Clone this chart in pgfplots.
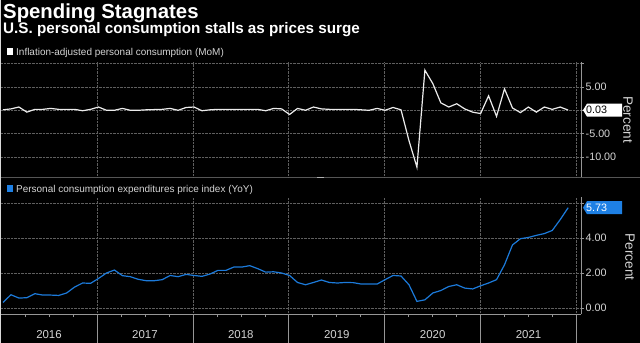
\documentclass[border=0pt]{standalone}
\usepackage{pgfplots}
\pgfplotsset{compat=1.18}
\usepackage{pgfplotstable}
\usepackage{fontspec}
\setmainfont{Liberation Sans}
\definecolor{bbblue}{RGB}{30,128,228}
\definecolor{lineblue}{RGB}{28,122,218}
\definecolor{txt}{RGB}{212,212,212}
\definecolor{gridc}{RGB}{95,95,95}
\definecolor{axc}{RGB}{150,150,150}
\definecolor{sepc}{RGB}{85,85,85}

% Inflation-adjusted personal consumption, MoM %, Dec 2015 (i=0) .. Nov 2021 (i=71)
\pgfplotstableread{
i v
0 0.1
1 0.3
2 0.7
3 -0.4
4 0.2
5 0.2
6 0.4
7 0.2
8 0.2
9 0.2
10 -0.1
11 0.2
12 0.7
13 0.0
14 0.0
15 0.4
16 0.0
17 0.0
18 0.1
19 0.15
20 0.2
21 0.4
22 0.0
23 0.6
24 0.7
25 -0.1
26 0.1
27 0.2
28 0.2
29 0.2
30 0.2
31 0.2
32 0.2
33 -0.1
34 0.4
35 0.3
36 -0.9
37 0.4
38 0.0
39 0.7
40 0.3
41 0.2
42 0.2
43 0.2
44 0.2
45 0.1
46 0.0
47 0.4
48 0.0
49 0.6
50 0.1
51 -6.5
52 -12.2
53 8.6
54 5.7
55 1.6
56 0.7
57 1.4
58 0.3
59 -0.4
60 -0.7
61 3.1
62 -1.3
63 4.6
64 0.5
65 -0.5
66 0.7
67 -0.4
68 0.7
69 0.2
70 0.7
71 0.03
}\realpce

% PCE price index, YoY %
\pgfplotstableread{
i v
0 0.32
1 0.76
2 0.57
3 0.59
4 0.82
5 0.74
6 0.74
7 0.72
8 0.86
9 1.20
10 1.43
11 1.41
12 1.69
13 2.00
14 2.17
15 1.85
16 1.79
17 1.64
18 1.56
19 1.56
20 1.62
21 1.86
22 1.79
23 1.92
24 1.86
25 1.81
26 1.94
27 2.15
28 2.15
29 2.34
30 2.34
31 2.42
32 2.25
33 2.05
34 2.07
35 2.00
36 1.86
37 1.46
38 1.33
39 1.46
40 1.60
41 1.46
42 1.43
43 1.46
44 1.45
45 1.37
46 1.37
47 1.37
48 1.62
49 1.86
50 1.83
51 1.33
52 0.38
53 0.47
54 0.86
55 1.00
56 1.23
57 1.33
58 1.14
59 1.09
60 1.27
61 1.43
62 1.62
63 2.47
64 3.60
65 3.96
66 4.03
67 4.15
68 4.25
69 4.43
70 5.05
71 5.73
}\pceyoy

\pgfplotsset{
  bbstyle/.style={
    scale only axis, width=580bp, anchor=south west,
    xmin=-0.25, xmax=72.61,
    axis y line*=right, axis x line*=bottom,
    y axis line style={draw=axc, -},
    xtick={11.8,23.85,35.9,47.95,60.0,72.0}, xticklabels={},
    grid=major,
    grid style={gridc, densely dotted, line width=0.6bp},
    tick align=outside, major tick length=3bp, minor tick length=3bp,
    every tick/.style={axc, line width=0.6bp},
    yticklabel style={font=\fontsize{10.8}{11}\selectfont, text=txt, inner sep=1.5bp},
    /pgf/number format/assume math mode=true,
    clip=false,
  }
}

\begin{document}
\begin{tikzpicture}
\fill[black] (0,0) rectangle (640bp,343bp);
\useasboundingbox (0,0) rectangle (640bp,343bp);
\fill[white!85!black] (0,0) rectangle (1.2bp,343bp);

% titles
\node[anchor=base west, inner sep=0, text=white, font=\fontsize{20.4}{20}\selectfont\bfseries] at (3bp,324.5bp) {Spending Stagnates};
\node[anchor=base west, inner sep=0, text=white, font=\fontsize{15.3}{16}\selectfont\bfseries] at (3bp,309.7bp) {U.S. personal consumption stalls as prices surge};

% legends
\fill[white] (7bp,288bp) rectangle (12.5bp,294.5bp);
\node[anchor=base west, inner sep=0, text=txt, font=\fontsize{10}{11}\selectfont] at (16bp,287bp) {Inflation-adjusted personal consumption (MoM)};
\fill[bbblue] (7bp,151bp) rectangle (12.5bp,157.5bp);
\node[anchor=base west, inner sep=0, text=txt, font=\fontsize{10}{11}\selectfont] at (16bp,150.7bp) {Personal consumption expenditures price index (YoY)};

% separator between panels
\fill[sepc] (1.2bp,164.5bp) rectangle (640bp,166bp);
\fill[white!70!black] (317bp,164.5bp) rectangle (324bp,166bp);

% top panel
\begin{axis}[bbstyle,
  at={(1bp,166bp)}, height=115bp,
  ymin=-14.3, ymax=10.35,
  x axis line style={draw=none},
  major x tick style={draw=none},
  ytick={-10,-5,0,5,10}, yticklabels={-10.00,-5.00,,5.00,},
]
\addplot[white!92!black, line width=1.2bp] table[x=i,y=v]{\realpce};
\coordinate (tagA) at (axis cs:72.61,0.03);
\end{axis}
\fill[white] ([xshift=2bp]tagA) -- ([xshift=6bp,yshift=6.5bp]tagA) -- ([xshift=41bp,yshift=6.5bp]tagA) -- ([xshift=41bp,yshift=-6.5bp]tagA) -- ([xshift=6bp,yshift=-6.5bp]tagA) -- cycle;
\node[anchor=west, inner sep=0, text=black, font=\fontsize{10.8}{11}\selectfont] at ([xshift=5bp]tagA) {0.03};

% bottom panel
\begin{axis}[bbstyle,
  at={(1bp,29bp)}, height=117bp,
  ymin=-0.34, ymax=6.34,
  x axis line style={draw=axc, -},
  minor xtick={2.76,5.78,8.79,14.81,17.83,20.84,26.86,29.88,32.89,38.91,41.93,44.94,50.96,53.98,56.99,63.01,66.03,69.04},
  ytick={0,2,4,6}, yticklabels={0.00,2.00,4.00,},
]
\addplot[lineblue, line width=1.2bp] table[x=i,y=v]{\pceyoy};
\coordinate (yb1) at (axis cs:11.8,-0.34);
\coordinate (yb2) at (axis cs:23.85,-0.34);
\coordinate (yb3) at (axis cs:35.9,-0.34);
\coordinate (yb4) at (axis cs:47.95,-0.34);
\coordinate (yb5) at (axis cs:60.0,-0.34);
\coordinate (yb6) at (axis cs:72.0,-0.34);
\coordinate (yl1) at (axis cs:5.78,-0.34);
\coordinate (yl2) at (axis cs:17.83,-0.34);
\coordinate (yl3) at (axis cs:29.88,-0.34);
\coordinate (yl4) at (axis cs:41.93,-0.34);
\coordinate (yl5) at (axis cs:53.98,-0.34);
\coordinate (yl6) at (axis cs:66.03,-0.34);
\coordinate (tagB) at (axis cs:72.61,5.73);
\end{axis}
\foreach \k in {1,...,6}{
  \draw[axc, line width=0.6bp] (yb\k) -- ([yshift=-29bp]yb\k);
}
\foreach \k/\yr in {1/2016,2/2017,3/2018,4/2019,5/2020,6/2021}{
  \node[anchor=base, inner sep=0, text=txt, font=\fontsize{11.5}{12}\selectfont] at ([yshift=-24.3bp]yl\k) {\yr};
}
\fill[bbblue] ([xshift=2bp]tagB) -- ([xshift=6bp,yshift=6.5bp]tagB) -- ([xshift=41bp,yshift=6.5bp]tagB) -- ([xshift=41bp,yshift=-6.5bp]tagB) -- ([xshift=6bp,yshift=-6.5bp]tagB) -- cycle;
\node[anchor=west, inner sep=0, text=white, font=\fontsize{10.8}{11}\selectfont] at ([xshift=5bp]tagB) {5.73};

% Percent labels
\node[rotate=-90, inner sep=0, text=txt, font=\fontsize{13.6}{14}\selectfont] at (628bp,223.5bp) {Percent};
\node[rotate=-90, inner sep=0, text=txt, font=\fontsize{13.6}{14}\selectfont] at (630bp,86bp) {Percent};
\end{tikzpicture}
\end{document}
